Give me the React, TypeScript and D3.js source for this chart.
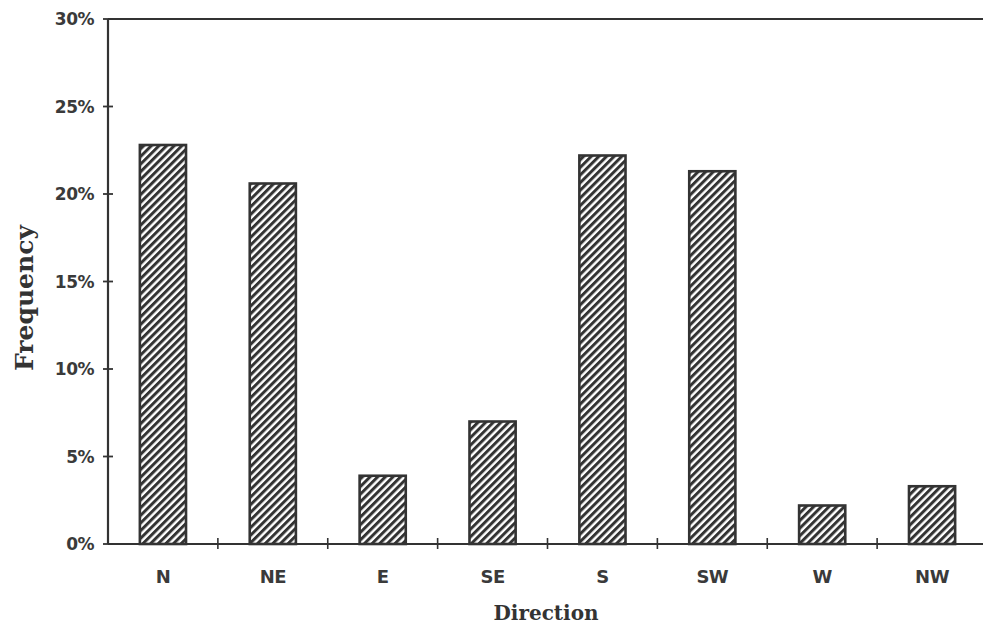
import React from 'react';
import * as d3 from 'd3';

const directions = ['N', 'NE', 'E', 'SE', 'S', 'SW', 'W', 'NW'];
const frequency = [22.8, 20.6, 3.9, 7.0, 22.2, 21.3, 2.2, 3.3];
const yTicks = [0, 5, 10, 15, 20, 25, 30];

export default function App() {
  const ref = React.useRef<SVGSVGElement>(null);

  React.useEffect(() => {
    const W = 983;
    const H = 627;
    const margin = { top: 19, right: -4, bottom: 83, left: 108 };
    const width = W - margin.left - margin.right;
    const height = H - margin.top - margin.bottom;
    const ink = '#333';

    const root = d3.select(ref.current);
    root.selectAll('*').remove();

    // hatch pattern for the bars
    const defs = root.append('defs');
    const pat = defs.append('pattern')
      .attr('id', 'hatch')
      .attr('patternUnits', 'userSpaceOnUse')
      .attr('width', 5.4)
      .attr('height', 5.4)
      .attr('patternTransform', 'rotate(45)');
    pat.append('rect').attr('width', 5.4).attr('height', 5.4).attr('fill', '#fff');
    pat.append('line')
      .attr('x1', 1.5).attr('y1', 0).attr('x2', 1.5).attr('y2', 5.4)
      .attr('stroke', ink).attr('stroke-width', 3);

    const svg = root.append('g')
      .attr('transform', `translate(${margin.left},${margin.top})`);

    const x = d3.scaleBand().domain(directions).range([0, width]).paddingInner(0.58).paddingOuter(0.29);
    const xb = d3.scaleBand().domain(directions).range([0, width]);
    const y = d3.scaleLinear().domain([0, 30]).range([height, 0]);

    // bars
    svg.selectAll('rect.bar')
      .data(directions)
      .enter()
      .append('rect')
      .attr('class', 'bar')
      .attr('x', d => x(d) || 0)
      .attr('y', (d, i) => y(frequency[i]))
      .attr('width', x.bandwidth())
      .attr('height', (d, i) => height - y(frequency[i]))
      .attr('fill', 'url(#hatch)')
      .attr('stroke', ink)
      .attr('stroke-width', 2.6);

    // frame: left axis, bottom axis, top line
    svg.append('line').attr('x1', 0).attr('x2', 0).attr('y1', 0).attr('y2', height)
      .attr('stroke', ink).attr('stroke-width', 2.2);
    svg.append('line').attr('x1', 0).attr('x2', width).attr('y1', height).attr('y2', height)
      .attr('stroke', ink).attr('stroke-width', 2.2);
    svg.append('line').attr('x1', 0).attr('x2', width).attr('y1', 0).attr('y2', 0)
      .attr('stroke', ink).attr('stroke-width', 2.2);

    // y ticks (cross the axis)
    const yt = svg.append('g');
    yt.selectAll('line')
      .data(yTicks)
      .enter()
      .append('line')
      .attr('x1', -5).attr('x2', 5)
      .attr('y1', d => y(d)).attr('y2', d => y(d))
      .attr('stroke', ink).attr('stroke-width', 1.8);
    yt.selectAll('text')
      .data(yTicks)
      .enter()
      .append('text')
      .attr('x', -14)
      .attr('y', d => y(d))
      .attr('dy', '0.36em')
      .attr('text-anchor', 'end')
      .attr('font-family', 'DejaVu Sans, sans-serif')
      .attr('font-weight', 'bold')
      .attr('font-size', 17)
      .attr('letter-spacing', -0.5)
      .attr('fill', '#3a3a3a')
      .text(d => `${d}%`);

    // x ticks at band boundaries
    const bounds = directions.slice(1).map(d => xb(d) || 0).concat([width]);
    svg.append('g').selectAll('line')
      .data(bounds)
      .enter()
      .append('line')
      .attr('x1', d => d).attr('x2', d => d)
      .attr('y1', height - 6).attr('y2', height + 5)
      .attr('stroke', ink).attr('stroke-width', 1.6);

    svg.append('g').selectAll('text')
      .data(directions)
      .enter()
      .append('text')
      .attr('x', d => (x(d) || 0) + x.bandwidth() / 2)
      .attr('y', height + 39)
      .attr('text-anchor', 'middle')
      .attr('font-family', 'DejaVu Sans, sans-serif')
      .attr('font-weight', 'bold')
      .attr('font-size', 18)
      .attr('letter-spacing', -0.5)
      .attr('fill', '#3a3a3a')
      .text(d => d);

    // axis titles
    root.append('text')
      .attr('x', 546)
      .attr('y', 620)
      .attr('text-anchor', 'middle')
      .attr('font-family', 'DejaVu Serif, serif')
      .attr('font-weight', 'bold')
      .attr('font-size', 20)
      .attr('fill', ink)
      .text('Direction');

    root.append('text')
      .attr('transform', 'translate(33,298) rotate(-90)')
      .attr('text-anchor', 'middle')
      .attr('font-family', 'DejaVu Serif, serif')
      .attr('font-weight', 'bold')
      .attr('font-size', 25)
      .attr('fill', ink)
      .text('Frequency');
  }, []);

  return (
    <svg
      ref={ref}
      width={983}
      height={627}
      style={{ position: 'absolute', left: 0, top: 0, background: '#fff' }}
    />
  );
}
